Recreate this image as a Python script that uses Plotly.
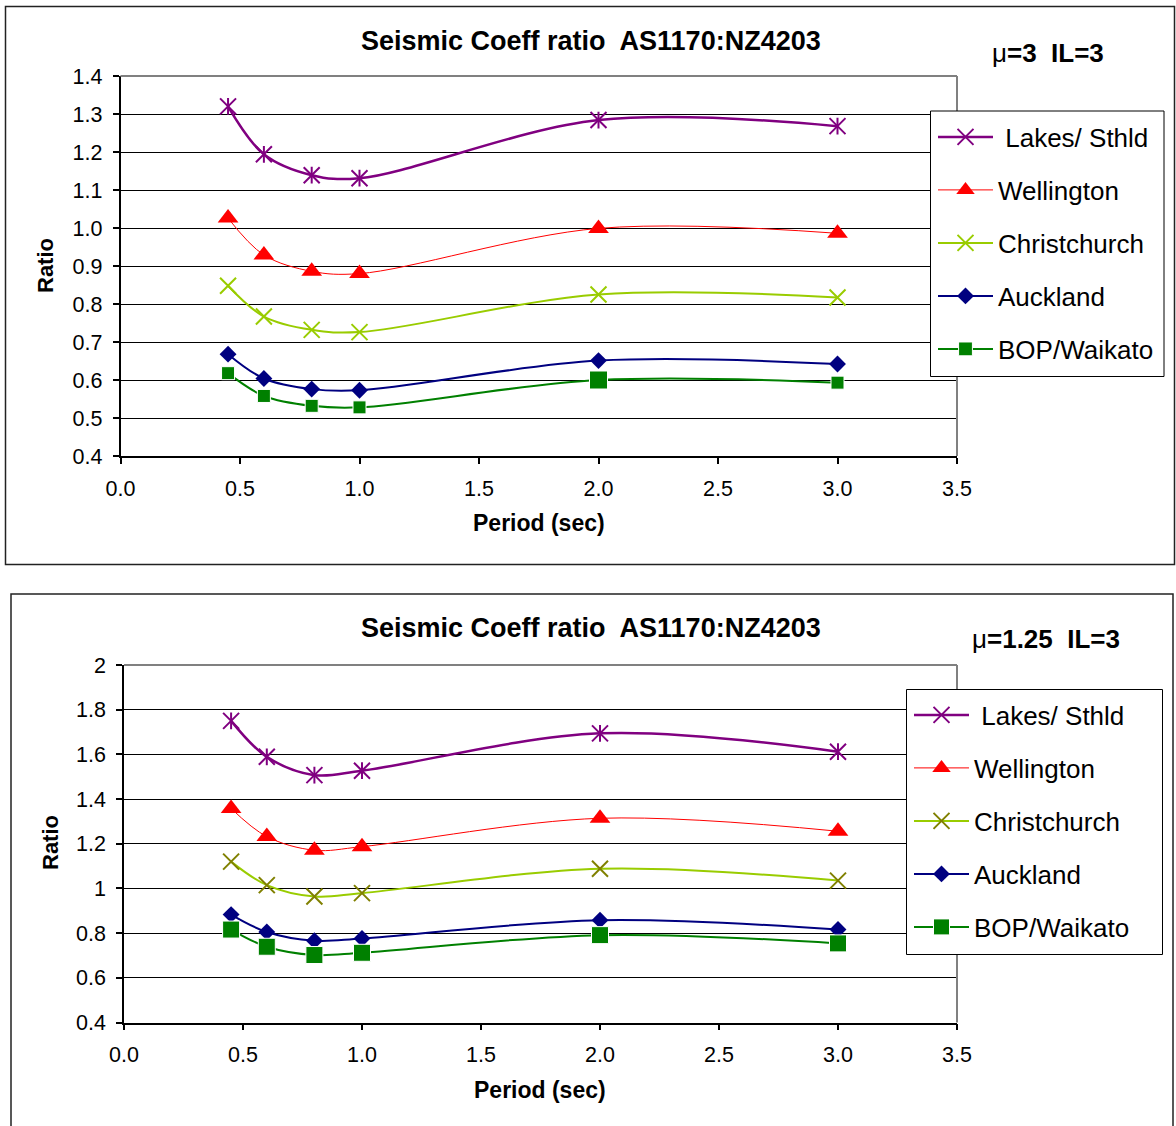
import plotly.graph_objects as go

W, H = 1176, 1126

# ---------------- data ----------------
period = [0.45, 0.6, 0.8, 1.0, 2.0, 3.0]
series_names = ["\u00a0Lakes/ Sthld", "Wellington", "Christchurch", "Auckland", "BOP/Waikato"]

# mu = 3, IL = 3
lakes_mu3 = [1.320, 1.194, 1.139, 1.131, 1.284, 1.268]
wellington_mu3 = [1.026, 0.929, 0.886, 0.880, 0.999, 0.986]
christchurch_mu3 = [0.848, 0.767, 0.732, 0.726, 0.825, 0.817]
auckland_mu3 = [0.668, 0.604, 0.576, 0.573, 0.651, 0.642]
bop_mu3 = [0.618, 0.558, 0.532, 0.528, 0.600, 0.593]

# mu = 1.25, IL = 3
lakes_mu125 = [1.750, 1.589, 1.507, 1.527, 1.694, 1.612]
wellington_mu125 = [1.358, 1.232, 1.171, 1.187, 1.314, 1.256]
christchurch_mu125 = [1.120, 1.015, 0.964, 0.979, 1.088, 1.035]
auckland_mu125 = [0.883, 0.805, 0.766, 0.776, 0.858, 0.816]
bop_mu125 = [0.816, 0.739, 0.702, 0.712, 0.791, 0.754]

x_ticks = [0.0, 0.5, 1.0, 1.5, 2.0, 2.5, 3.0, 3.5]
chart_title = "Seismic Coeff ratio  AS1170:NZ4203"
x_title = "Period (sec)"
y_title = "Ratio"
subtitle_top = "\u03bc<b>=3  IL=3</b>"
subtitle_bottom = "\u03bc<b>=1.25  IL=3</b>"

FONT = "Liberation Sans, Arial, sans-serif"
PURPLE, RED, YG, NAVY, GREEN, OLIVE = "#800080", "#FF0000", "#99CC00", "#000080", "#008000", "#808000"


def px(x):
    return x / W


def py(y):
    return 1 - y / H


fig = go.Figure()


def add_set(xa, ya, leg, vals, ch_marker_color, bop_sizes):
    lakes, well, chch, akl, bop = vals
    common = dict(x=period, xaxis=xa, yaxis=ya, legend=leg, mode="lines+markers")
    fig.add_trace(go.Scatter(y=lakes, name=series_names[0], legendgroup=leg + "a",
                             line=dict(color=PURPLE, width=2.5, shape="spline", smoothing=1.0),
                             marker=dict(symbol="x-thin-open", size=16, color=PURPLE, opacity=1,
                                         line=dict(color=PURPLE, width=2)), **common))
    fig.add_trace(go.Scatter(x=period, y=lakes, xaxis=xa, yaxis=ya, mode="markers",
                             showlegend=False, legendgroup=leg + "a", hoverinfo="skip",
                             marker=dict(symbol="line-ns-open", size=12, color=PURPLE, opacity=1,
                                         line=dict(color=PURPLE, width=2))))
    fig.add_trace(go.Scatter(y=well, name=series_names[1], legendgroup=leg + "b",
                             line=dict(color=RED, width=1, shape="spline", smoothing=1.0),
                             marker=dict(symbol="triangle-up", size=18, color=RED, opacity=1), **common))
    fig.add_trace(go.Scatter(y=chch, name=series_names[2], legendgroup=leg + "c",
                             line=dict(color=YG, width=2, shape="spline", smoothing=1.0),
                             marker=dict(symbol="x-thin-open", size=16, color=ch_marker_color, opacity=1,
                                         line=dict(color=ch_marker_color, width=2)), **common))
    fig.add_trace(go.Scatter(y=akl, name=series_names[3], legendgroup=leg + "d",
                             line=dict(color=NAVY, width=2, shape="spline", smoothing=1.0),
                             marker=dict(symbol="diamond", size=13, color=NAVY, opacity=1), **common))
    fig.add_trace(go.Scatter(y=bop, name=series_names[4], legendgroup=leg + "e",
                             line=dict(color=GREEN, width=2, shape="spline", smoothing=1.0),
                             marker=dict(symbol="square", size=bop_sizes, color=GREEN, opacity=1), **common))


add_set("x", "y", "legend", [lakes_mu3, wellington_mu3, christchurch_mu3, auckland_mu3, bop_mu3],
        YG, [13, 13, 13, 13, 18, 13])
add_set("x2", "y2", "legend2", [lakes_mu125, wellington_mu125, christchurch_mu125, auckland_mu125, bop_mu125],
        OLIVE, [17, 17, 17, 17, 17, 17])

axis_common = dict(showline=True, linecolor="black", linewidth=1.5, ticks="outside", ticklen=6,
                   tickcolor="black", tickwidth=1.5, zeroline=False, automargin=False,
                   tickfont=dict(family=FONT, size=21.5, color="black"))

xa_common = dict(range=[0, 3.5], tickvals=x_ticks, tickformat=".1f", showgrid=False,
                 ticklabelstandoff=6, **axis_common)

legend_common = dict(xanchor="left", yanchor="top", bgcolor="rgba(0,0,0,0)", borderwidth=0,
                     font=dict(family=FONT, size=26, color="black"),
                     tracegroupgap=16.2, itemwidth=55, traceorder="grouped")

fig.update_layout(
    width=W, height=H, autosize=False,
    margin=dict(l=0, r=0, t=0, b=0, pad=0, autoexpand=False),
    paper_bgcolor="white", plot_bgcolor="white",
    font=dict(family=FONT, color="black"),
    xaxis=dict(domain=[px(120.5), px(957)], anchor="y", **xa_common),
    yaxis=dict(domain=[py(456), py(76)], anchor="x", range=[0.4, 1.4], dtick=0.1, tick0=0.4,
               tickformat=".1f", showgrid=True, gridcolor="black", gridwidth=1,
               ticklabelstandoff=6, **axis_common),
    xaxis2=dict(domain=[px(124), px(957)], anchor="y2", **xa_common),
    yaxis2=dict(domain=[py(1022.5), py(665)], anchor="x2", range=[0.4, 2.0], dtick=0.2, tick0=0.4,
                showgrid=True, gridcolor="black", gridwidth=1,
                ticklabelstandoff=6, **axis_common),
    legend=dict(x=px(933), y=py(113.5), **legend_common),
    legend2=dict(x=px(909), y=py(691.5), **legend_common),
    showlegend=True,
)

shapes = []
# outer chart borders
shapes.append(dict(type="rect", xref="paper", yref="paper", x0=px(5.5), x1=px(1174.5), y0=py(564.5), y1=py(6.5),
                   line=dict(color="#222222", width=1.5), layer="above"))
shapes.append(dict(type="rect", xref="paper", yref="paper", x0=px(11), x1=px(1173), y0=py(1140), y1=py(594),
                   line=dict(color="#222222", width=1.5), layer="above"))
# plot-area gray top/right borders
for xr, yr in (("x", "y"), ("x2", "y2")):
    shapes.append(dict(type="line", xref=xr + " domain", yref=yr + " domain", x0=0, x1=1, y0=1, y1=1,
                       line=dict(color="#808080", width=2), layer="above"))
    shapes.append(dict(type="line", xref=xr + " domain", yref=yr + " domain", x0=1, x1=1, y0=0, y1=1,
                       line=dict(color="#808080", width=2), layer="above"))
# legend boxes
shapes.append(dict(type="rect", xref="paper", yref="paper", x0=px(930.5), x1=px(1164), y0=py(376.5), y1=py(111),
                   line=dict(color="black", width=1), fillcolor="white", layer="above"))
shapes.append(dict(type="rect", xref="paper", yref="paper", x0=px(906.5), x1=px(1162.5), y0=py(954.5), y1=py(689.5),
                   line=dict(color="black", width=1), fillcolor="white", layer="above"))
fig.update_layout(shapes=shapes)

ann = []


def text_ann(x, y, text, size, bold=True, angle=0):
    ann.append(dict(xref="paper", yref="paper", x=px(x), y=py(y), xanchor="center", yanchor="middle",
                    text=("<b>%s</b>" % text) if bold else text, showarrow=False, textangle=angle,
                    font=dict(family=FONT, size=size, color="black")))


text_ann(591, 41, chart_title, 27)
text_ann(591, 628, chart_title, 27)
text_ann(1048, 53, subtitle_top, 26, bold=False)
text_ann(1046, 639, subtitle_bottom, 26, bold=False)
text_ann(539, 523, x_title, 23)
text_ann(540, 1090, x_title, 23)
text_ann(46, 266, y_title, 22, angle=-90)
text_ann(50, 843, y_title, 22, angle=-90)
fig.update_layout(annotations=ann)

fig.write_html("out.html")
